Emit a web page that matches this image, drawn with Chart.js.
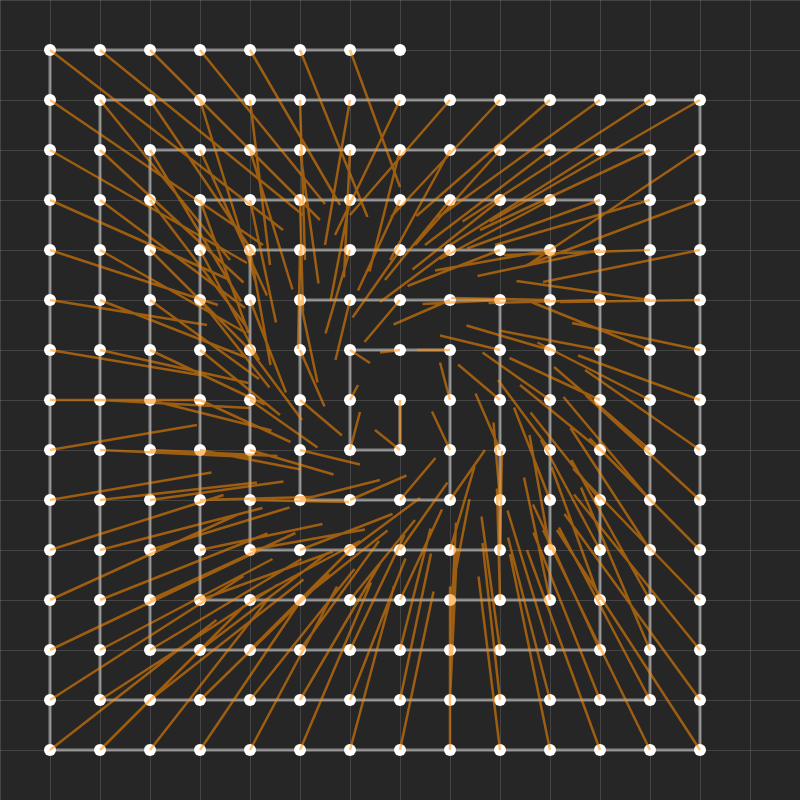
<!DOCTYPE html>
<html>
<head>
<meta charset="utf-8">
<script src="https://cdn.jsdelivr.net/npm/chart.js@4.4.1/dist/chart.umd.min.js"></script>
<style>
html, body { margin: 0; padding: 0; background: #262626; }
#wrap { width: 800px; height: 800px; }
</style>
</head>
<body>
<div id="wrap"><canvas id="spiralChart"></canvas></div>
<script>
// spiral points, in walk order from the centre (col, row; row counts downward)
var ptX = [
  8,8,7,7,7,8,9,9,9,9, 8,7,6,6,6,6,6,7,8,9,
  10,10,10,10,10,10,9,8,7,6, 5,5,5,5,5,5,5,6,7,8,
  9,10,11,11,11,11,11,11,11,11, 10,9,8,7,6,5,4,4,4,4,
  4,4,4,4,4,5,6,7,8,9, 10,11,12,12,12,12,12,12,12,12,
  12,12,11,10,9,8,7,6,5,4, 3,3,3,3,3,3,3,3,3,3,
  3,4,5,6,7,8,9,10,11,12, 13,13,13,13,13,13,13,13,13,13,
  13,13,12,11,10,9,8,7,6,5, 4,3,2,2,2,2,2,2,2,2,
  2,2,2,2,2,3,4,5,6,7, 8,9,10,11,12,13,14,14,14,14,
  14,14,14,14,14,14,14,14,14,14, 13,12,11,10,9,8,7,6,5,4,
  3,2,1,1,1,1,1,1,1,1, 1,1,1,1,1,1,1,2,3,4,
  5,6,7,8
];
var ptY = [
  8,9,9,8,7,7,7,8,9,10, 10,10,10,9,8,7,6,6,6,6,
  6,7,8,9,10,11,11,11,11,11, 11,10,9,8,7,6,5,5,5,5,
  5,5,5,6,7,8,9,10,11,12, 12,12,12,12,12,12,12,11,10,9,
  8,7,6,5,4,4,4,4,4,4, 4,4,4,5,6,7,8,9,10,11,
  12,13,13,13,13,13,13,13,13,13, 13,12,11,10,9,8,7,6,5,4,
  3,3,3,3,3,3,3,3,3,3, 3,4,5,6,7,8,9,10,11,12,
  13,14,14,14,14,14,14,14,14,14, 14,14,14,13,12,11,10,9,8,7,
  6,5,4,3,2,2,2,2,2,2, 2,2,2,2,2,2,2,3,4,5,
  6,7,8,9,10,11,12,13,14,15, 15,15,15,15,15,15,15,15,15,15,
  15,15,15,14,13,12,11,10,9,8, 7,6,5,4,3,2,1,1,1,1,
  1,1,1,1
];
// orange vector at each point (same order)
var vecX = [
  0,-0.5,0.2,0.16,0.4,-0.4,-0.66,-0.2,-0.36,0.7,
  0.71,1.13,1.6,1.2,0.84,0.49,0.35,-0.29,-0.71,-1.13,
  -1.55,-1.2,-0.84,-0.49,-0.13,0.04,0.49,0.95,1.4,1.85,
  2.3,1.98,1.67,1.35,1.04,0.72,0.41,-0.04,-0.49,-0.95,
  -1.4,-1.85,-2.3,-1.98,-1.67,-1.35,-1.04,-0.72,-0.41,-0.52,
  -0.06,0.39,0.84,1.3,1.75,2.2,2.66,2.45,2.23,2.02,
  1.81,1.6,1.39,1.18,0.97,0.52,0.06,-0.39,-0.84,-1.3,
  -1.75,-2.2,-2.66,-2.45,-2.23,-2.02,-1.81,-1.6,-1.39,-1.18,
  -0.97,-1.34,-0.85,-0.37,0.12,0.61,1.09,1.58,2.06,2.55,
  3.03,2.91,2.79,2.67,2.55,2.43,2.3,2.18,2.06,1.94,
  1.82,1.34,0.85,0.37,-0.12,-0.61,-1.2,-1.7,-2.5,-3.0,
  -3.4,-3.1,-2.92,-2.67,-2.35,-2.25,-1.92,-1.73,-1.59,-1.57,
  -1.38,-1.82,-1.33,-0.84,-0.35,0.14,0.62,1.11,1.6,2.09,
  2.58,3.07,3.56,3.45,3.35,3.25,3.14,3.04,3.0,2.97,
  2.95,2.92,2.9,2.87,2.6,2.1,1.1,0.4,0.1,-0.5,
  -1.3,-2.0,-2.18,-2.67,-3.24,-3.75,-4.2,-3.4,-3.46,-3.14,
  -2.8,-2.56,-2.44,-2.3,-2.28,-2.21,-2.54,-2.52,-2.71,-2.86,
  -2.14,-1.46,-0.8,-0.43,0,0.67,0.88,1.42,1.74,2.01,
  2.4,2.87,3.33,3.87,4.2,3.73,3.47,3.23,2.94,3.0,
  3.0,3.14,3.36,3.6,3.94,4.26,4.66,4.06,3.4,2.5,
  1.8,1.35,1.0,0
];
var vecY = [
  0.85,-0.4,-0.76,-0.3,0.26,0.05,0,-0.75,-0.77,-1.0,
  -0.84,-0.49,-0.4,0.29,0.71,1.13,1.65,1.2,0.84,0.49,
  0.08,-0.29,-0.71,-1.13,-1.55,-1.98,-1.67,-1.35,-1.04,-0.72,
  -0.41,0.04,0.49,0.95,1.4,1.85,2.3,1.98,1.67,1.35,
  1.04,0.72,0.41,-0.04,-0.49,-0.95,-1.4,-1.85,-2.3,-2.45,
  -2.23,-2.02,-1.81,-1.6,-1.39,-1.18,-0.97,-0.52,-0.06,0.39,
  0.84,1.3,1.75,2.2,2.66,2.45,2.23,2.02,1.81,1.6,
  1.39,1.18,0.97,0.52,0.06,-0.39,-0.84,-1.3,-1.75,-2.2,
  -2.66,-2.91,-2.79,-2.67,-2.55,-2.43,-2.3,-2.18,-2.06,-1.94,
  -1.82,-1.34,-0.85,-0.37,0.12,0.61,1.09,1.58,2.06,2.55,
  3.03,2.91,2.79,2.67,2.55,2.43,2.2,1.9,1.9,1.9,
  1.6,0.9,0.1,-0.38,-0.95,-1.15,-1.66,-2.06,-2.44,-2.8,
  -3.25,-3.45,-3.35,-3.25,-3.14,-3.04,-2.93,-2.83,-2.73,-2.62,
  -2.52,-2.41,-2.31,-1.82,-1.33,-0.84,-0.35,0.14,0.16,0.66,
  1.16,1.66,2.16,2.65,3.2,3.1,3.6,3.3,3.2,2.9,
  2.7,2.3,2.34,2.32,2.35,2.43,2.43,2.27,1.3,0.64,
  0.04,-0.54,-0.89,-1.6,-2.09,-2.23,-2.63,-3.11,-3.72,-4.4,
  -4.4,-4.0,-3.92,-3.47,-3.27,-3.17,-3.28,-3.35,-3.27,-2.98,
  -3.07,-2.87,-2.6,-2.48,-2.0,-1.7,-1.1,-0.55,-0.5,0,
  0.5,0.5,1.1,1.6,2.26,2.9,3.6,3.3,3.4,3.08,
  3.1,3.34,2.74,0
];

var spiralPts = [];
var arrowPts = [];
for (var i = 0; i < ptX.length; i++) {
  spiralPts.push({x: ptX[i], y: ptY[i]});
  arrowPts.push({x: ptX[i], y: ptY[i]});
  arrowPts.push({x: ptX[i] + vecX[i], y: ptY[i] + vecY[i]});
  arrowPts.push({x: null, y: null});
}

var gridOpts = {color: 'rgba(255,255,255,0.14)', lineWidth: 1, drawTicks: false};

var ctx = document.getElementById('spiralChart').getContext('2d');
var chart = new Chart(ctx, {
  type: 'line',
  data: {
    datasets: [
      {
        data: arrowPts,
        order: 0,
        borderColor: 'rgba(255,140,0,0.55)',
        borderWidth: 2.5,
        pointRadius: 0,
        pointHoverRadius: 0,
        spanGaps: false,
        tension: 0
      },
      {
        data: spiralPts,
        order: 1,
        borderColor: 'rgba(255,255,255,0.45)',
        borderWidth: 3,
        pointRadius: 6,
        pointBorderWidth: 0,
        pointBackgroundColor: '#ffffff',
        pointHoverRadius: 6,
        tension: 0
      }
    ]
  },
  options: {
    responsive: true,
    maintainAspectRatio: false,
    animation: false,
    events: [],
    layout: {padding: 0, autoPadding: false},
    plugins: {legend: {display: false}, tooltip: {enabled: false}},
    scales: {
      x: {type: 'linear', min: 0, max: 16, ticks: {display: false, stepSize: 1}, grid: gridOpts, border: {display: false}},
      y: {type: 'linear', min: 0, max: 16, reverse: true, ticks: {display: false, stepSize: 1}, grid: gridOpts, border: {display: false}}
    }
  }
});
</script>
</body>
</html>
